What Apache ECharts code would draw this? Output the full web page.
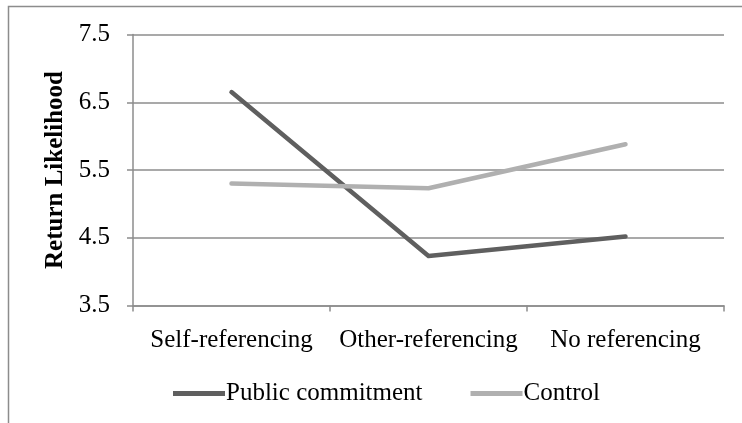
<!DOCTYPE html>
<html>
<head>
<meta charset="utf-8">
<script src="https://cdn.jsdelivr.net/npm/echarts@6/dist/echarts.min.js"></script>
<style>html,body{margin:0;padding:0;background:#fff}#c{width:742px;height:423px}</style>
</head>
<body>
<div id="c"></div>
<script>
var categories = ['Self-referencing', 'Other-referencing', 'No referencing'];
var publicCommitment = [6.65, 4.23, 4.52];
var control = [5.30, 5.23, 5.88];
var seriesNames = ['Public commitment', 'Control'];
var yTitle = 'Return Likelihood';

var font = '"Liberation Serif", "Times New Roman", serif';
var chart = echarts.init(document.getElementById('c'), null, {renderer: 'canvas'});
chart.setOption({
  animation: false,
  backgroundColor: '#fff',
  graphic: [{
    type: 'rect', silent: true,
    shape: {x: 8.5, y: 6.5, width: 900, height: 600},
    style: {fill: 'none', stroke: '#8c8c8c', lineWidth: 1.5}
  }],
  grid: {left: 133, right: 18, top: 34.5, bottom: 117.5},
  legend: {
    data: seriesNames,
    left: 168, top: 376,
    icon: 'rect', itemWidth: 52, itemHeight: 5, itemGap: 48,
    textStyle: {fontFamily: font, fontSize: 25, color: '#000', padding: [0, 0, 0, -4]}
  },
  xAxis: {
    type: 'category', data: categories, boundaryGap: true,
    axisLine: {lineStyle: {color: '#8c8c8c', width: 1.5}},
    axisTick: {show: true, length: 6, lineStyle: {color: '#8c8c8c', width: 1.5}},
    axisLabel: {fontFamily: font, fontSize: 25, color: '#000', margin: 22, interval: 0, hideOverlap: false}
  },
  yAxis: {
    type: 'value', min: 3.5, max: 7.5, interval: 1,
    name: yTitle, nameLocation: 'middle', nameGap: 62, nameRotate: 90,
    nameTextStyle: {fontFamily: font, fontSize: 25, fontWeight: 'bold', color: '#000'},
    axisLine: {show: true, lineStyle: {color: '#8c8c8c', width: 1.5}},
    axisTick: {show: true, length: 6, lineStyle: {color: '#8c8c8c', width: 1.5}},
    axisLabel: {fontFamily: font, fontSize: 25, color: '#000', margin: 23, formatter: function (v) { return v.toFixed(1); }},
    splitLine: {lineStyle: {color: '#8c8c8c', width: 1.5}}
  },
  series: [
    {name: seriesNames[0], type: 'line', data: publicCommitment, symbol: 'none',
     itemStyle: {color: '#5f5f5f'}, lineStyle: {color: '#5f5f5f', width: 4.5, cap: 'round', join: 'round'}},
    {name: seriesNames[1], type: 'line', data: control, symbol: 'none',
     itemStyle: {color: '#b0b0b0'}, lineStyle: {color: '#b0b0b0', width: 4.5, cap: 'round', join: 'round'}}
  ]
});
</script>
</body>
</html>
